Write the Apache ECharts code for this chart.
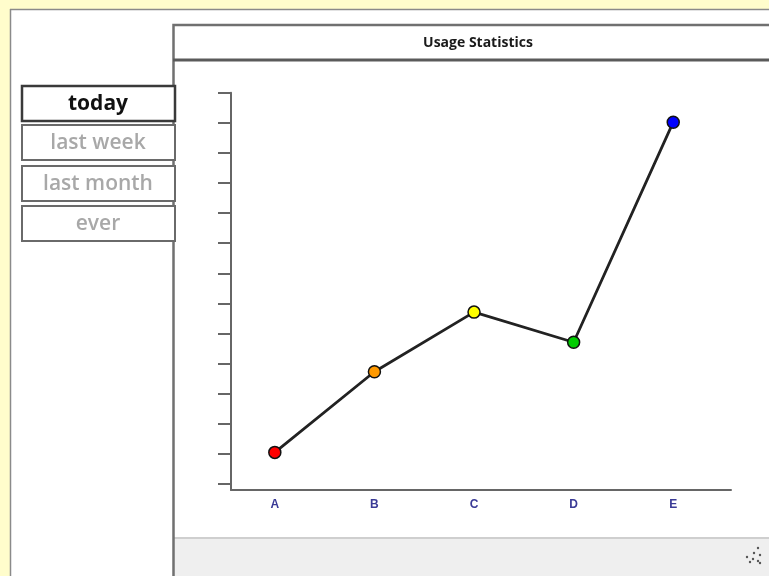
<!DOCTYPE html>
<html>
<head>
<meta charset="utf-8">
<script src="https://cdn.jsdelivr.net/npm/echarts@6/dist/echarts.min.js"></script>
<style>
html,body{margin:0;padding:0;background:#fff;}
#chart{width:769px;height:576px;}
</style>
</head>
<body>
<div id="chart"></div>
<script>
// ---- data ----
const categories = ['A', 'B', 'C', 'D', 'E'];
const values = [1.05, 3.73, 5.71, 4.71, 12.02];
const pointColors = ['#ff0000', '#ff9900', '#ffff00', '#00cc00', '#0000ff'];
const yTicks = [0, 1, 2, 3, 4, 5, 6, 7, 8, 9, 10, 11, 12, 13];
const buttonLabels = ['today', 'last week', 'last month', 'ever'];
const chartTitle = 'Usage Statistics';

const chart = echarts.init(document.getElementById('chart'), null, {renderer: 'canvas'});

const buttonTops = [86, 125, 166, 206];
const buttonGraphics = [];
buttonLabels.forEach((lbl, i) => {
  const active = i === 0;
  buttonGraphics.push({
    type: 'rect', z: 10,
    shape: {x: 22, y: buttonTops[i], width: 153, height: 35},
    style: {fill: '#fff', stroke: active ? '#3a3a3a' : '#6a6a6a', lineWidth: active ? 2.5 : 2}
  });
  buttonGraphics.push({
    type: 'text', z: 11,
    x: 98, y: buttonTops[i] + 18,
    style: {
      text: lbl, align: 'center', verticalAlign: 'middle',
      font: (active ? 'bold ' : '600 ') + '21px "Open Sans", sans-serif',
      fill: active ? '#111' : '#a8a8a8'
    }
  });
});

const gripDots = [[758,548],[754,553],[760,555],[747,557],[753,559],[758,561],[750,562],[760,563]];

const option = {
  animation: false,
  backgroundColor: '#ffffff',
  title: {
    text: chartTitle,
    left: 473, top: 31,
    textAlign: 'center',
    textStyle: {fontFamily: '"Open Sans", sans-serif', fontWeight: 'bold', fontSize: 14, color: '#1a1a1a'}
  },
  grid: {left: 231, right: 38, top: 92.7, bottom: 86, containLabel: false},
  xAxis: {
    type: 'value',
    min: -0.44, max: 4.58,
    axisLine: {show: true, onZero: false, lineStyle: {color: '#666', width: 2}},
    axisTick: {show: false},
    splitLine: {show: false},
    axisLabel: {
      customValues: categories.map((c, i) => i),
      formatter: (v) => categories[Math.round(v)] || '',
      color: '#3a3a96', fontWeight: 'bold', fontSize: 12,
      fontFamily: 'Arial, "Liberation Sans", sans-serif', margin: 9
    }
  },
  yAxis: {
    type: 'value',
    min: -0.2, max: 13,
    axisLine: {show: true, onZero: false, lineStyle: {color: '#666', width: 2}},
    axisTick: {show: true, customValues: yTicks, length: 13, lineStyle: {color: '#666', width: 2}},
    axisLabel: {show: false},
    splitLine: {show: false}
  },
  series: [{
    type: 'line',
    data: categories.map((c, i) => ({value: [i, values[i]], itemStyle: {color: pointColors[i]}})),
    symbol: 'circle',
    symbolSize: 12,
    lineStyle: {color: '#222', width: 2.8},
    itemStyle: {borderColor: '#111', borderWidth: 1.5},
    z: 5
  }],
  graphic: [
    {type: 'rect', z: -10, shape: {x: 0, y: 0, width: 769, height: 9}, style: {fill: '#fffdcc'}},
    {type: 'rect', z: -10, shape: {x: 0, y: 0, width: 10, height: 576}, style: {fill: '#fffdcc'}},
    {type: 'line', z: -9, shape: {x1: 10, y1: 9.5, x2: 769, y2: 9.5}, style: {stroke: '#8a8a8a', lineWidth: 1.5}},
    {type: 'line', z: -9, shape: {x1: 10.5, y1: 9, x2: 10.5, y2: 576}, style: {stroke: '#8a8a8a', lineWidth: 1.5}},
    // footer
    {type: 'rect', z: -8, shape: {x: 174, y: 538, width: 600, height: 40}, style: {fill: '#efefef'}},
    {type: 'line', z: -7, shape: {x1: 174, y1: 538, x2: 769, y2: 538}, style: {stroke: '#cfcfcf', lineWidth: 2}},
    // panel border
    {type: 'rect', z: -6, shape: {x: 173.5, y: 25, width: 620, height: 560}, style: {fill: 'none', stroke: '#707070', lineWidth: 2.5}},
    {type: 'line', z: -6, shape: {x1: 173, y1: 60, x2: 769, y2: 60}, style: {stroke: '#5a5a5a', lineWidth: 3}},
    ...buttonGraphics,
    ...gripDots.map(d => ({type: 'circle', z: 10, shape: {cx: d[0], cy: d[1], r: 1.2}, style: {fill: '#555'}}))
  ]
};
chart.setOption(option);
</script>
</body>
</html>
